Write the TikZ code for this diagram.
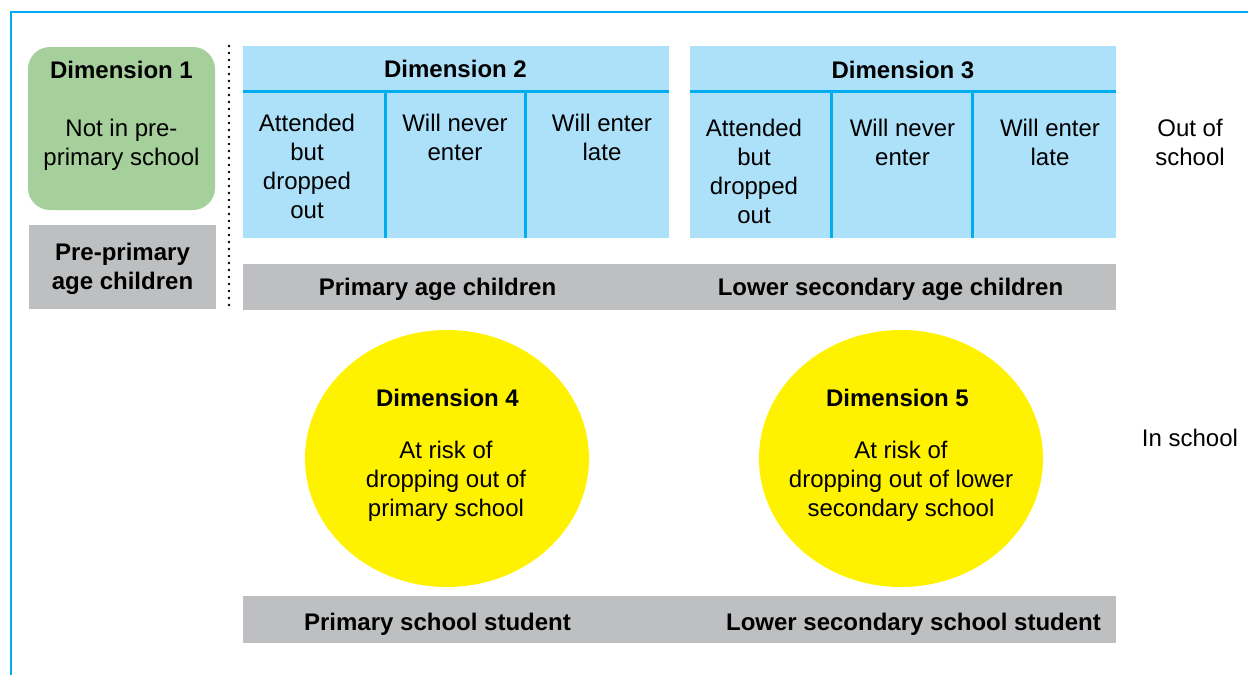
\documentclass[tikz,border=0pt]{standalone}
\usepackage{fontspec}
\setmainfont{Liberation Sans}
\definecolor{framecyan}{RGB}{0,174,239}
\definecolor{boxgreen}{RGB}{166,208,155}
\definecolor{boxblue}{RGB}{173,224,249}
\definecolor{boxgray}{RGB}{190,191,193}
\definecolor{circyellow}{RGB}{255,242,0}
\tikzset{
  fillbox/.style={rectangle, inner sep=0pt, outer sep=0pt, draw=none},
  txt/.style={inner sep=0pt, outer sep=0pt, align=center, anchor=base,
    font=\fontsize{24}{29}\selectfont},
  btxt/.style={txt, font=\fontsize{24}{29}\selectfont\bfseries},
  rule/.style={draw=framecyan, line width=3pt},
}
\begin{document}
\begin{tikzpicture}[x=1pt,y=-1pt]
\useasboundingbox (0,0) rectangle (1248,675);
% frame
\coordinate (fr1) at (1248,12);
\coordinate (fr2) at (11,12);
\coordinate (fr3) at (11,675);
\draw[framecyan, line width=1.5pt] (fr1) -- (fr2) -- (fr3);

% Dimension 1 (multi-line nodes: base anchor = baseline of last line)
\node[fillbox, fill=boxgreen, rounded corners=22pt, minimum width=187pt, minimum height=163pt] (d1) at (121.5,128.5) {};
\node[btxt] (d1h) at (121.5,78) {Dimension 1};
\node[txt] (d1t) at (121.5,165) {Not in pre-\\primary school};

\node[fillbox, fill=boxgray, minimum width=187pt, minimum height=84pt] (pre) at (122.5,267) {};
\node[btxt] (pret) at (122.5,289) {Pre-primary\\age children};

% dotted separator
\coordinate (dot1) at (229,46);
\coordinate (dot2) at (229,311);
\draw[line width=2.8pt, line cap=round, dash pattern=on 0pt off 7pt] (dot1) -- (dot2);

% Dimension 2
\node[fillbox, fill=boxblue, minimum width=426pt, minimum height=192pt] (d2) at (456,142) {};
\coordinate (d2l) at (243,91);
\coordinate (d2r) at (669,91);
\draw[rule] (d2l) -- (d2r);
\coordinate (d2a) at (385,91); \coordinate (d2ab) at (385,238);
\coordinate (d2b) at (525.5,91); \coordinate (d2bb) at (525.5,238);
\draw[rule] (d2a) -- (d2ab);
\draw[rule] (d2b) -- (d2bb);
\node[btxt] (d2h) at (455.5,77) {Dimension 2};
\node[txt] (d2c1) at (307,218) {Attended\\but\\dropped\\out};
\node[txt] (d2c2) at (455,160) {Will never\\enter};
\node[txt] (d2c3) at (602,160) {Will enter\\late};

% Dimension 3
\node[fillbox, fill=boxblue, minimum width=426pt, minimum height=192pt] (d3) at (903,142) {};
\coordinate (d3l) at (690,91);
\coordinate (d3r) at (1116,91);
\draw[rule] (d3l) -- (d3r);
\coordinate (d3a) at (831.5,91); \coordinate (d3ab) at (831.5,238);
\coordinate (d3b) at (972,91); \coordinate (d3bb) at (972,238);
\draw[rule] (d3a) -- (d3ab);
\draw[rule] (d3b) -- (d3bb);
\node[btxt] (d3h) at (903,78) {Dimension 3};
\node[txt] (d3c1) at (754,223) {Attended\\but\\dropped\\out};
\node[txt] (d3c2) at (902.5,165) {Will never\\enter};
\node[txt] (d3c3) at (1050,165) {Will enter\\late};

% age bar
\node[fillbox, fill=boxgray, minimum width=873pt, minimum height=46pt] (agebar) at (679.5,287) {};
\node[btxt] (age1) at (437.5,295) {Primary age children};
\node[btxt] (age2) at (890.5,295) {Lower secondary age children};

% circles
\fill[circyellow] (447,458.5) ellipse [x radius=142, y radius=128.5];
\coordinate (d4) at (447,458.5);
\node[btxt] (d4h) at (447.5,406) {Dimension 4};
\node[txt] (d4t) at (446,516) {At risk of\\dropping out of\\primary school};

\fill[circyellow] (901,458.5) ellipse [x radius=142, y radius=128.5];
\coordinate (d5) at (901,458.5);
\node[btxt] (d5h) at (897.5,406) {Dimension 5};
\node[txt] (d5t) at (901,516) {At risk of\\dropping out of lower\\secondary school};

% bottom bar
\node[fillbox, fill=boxgray, minimum width=873pt, minimum height=47pt] (stbar) at (679.5,619.5) {};
\node[btxt] (st1) at (437.5,630) {Primary school student};
\node[btxt] (st2) at (913.5,630) {Lower secondary school student};

% side labels
\node[txt] (out) at (1190,165) {Out of\\school};
\node[txt] (in) at (1190,446) {In school};
\end{tikzpicture}
\end{document}
